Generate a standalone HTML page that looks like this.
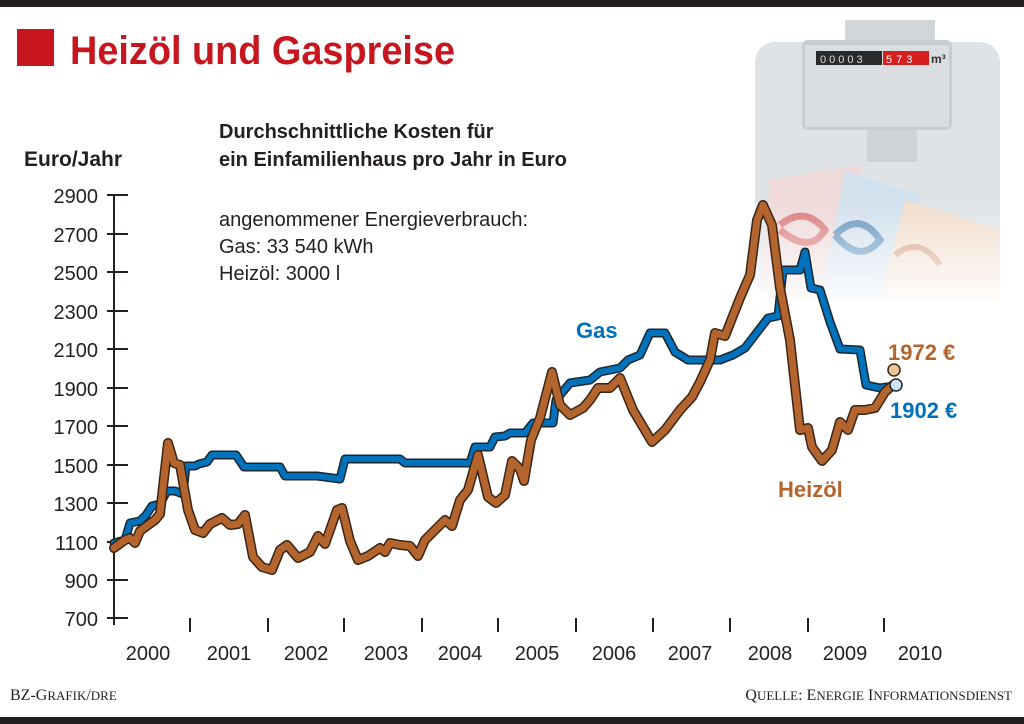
<!DOCTYPE html>
<html><head><meta charset="utf-8"><style>
body{margin:0;width:1024px;height:724px;overflow:hidden;background:#fff;font-family:"Liberation Sans",sans-serif}
</style></head><body>
<svg width="1024" height="724" viewBox="0 0 1024 724" xmlns="http://www.w3.org/2000/svg" style="position:absolute;left:0;top:0">
<defs>
<linearGradient id="fade" x1="0" y1="0" x2="0" y2="1"><stop offset="0" stop-color="#fff" stop-opacity="0"/><stop offset="1" stop-color="#fff" stop-opacity="1"/></linearGradient>
</defs>
<rect x="0" y="0" width="1024" height="7" fill="#231f20"/>
<rect x="0" y="717" width="1024" height="7" fill="#231f20"/>
<!-- meter photo -->
<rect x="755" y="42" width="245" height="255" rx="20" fill="#dfe3e6"/>
<rect x="845" y="20" width="90" height="22" fill="#d2d6d9"/>
<rect x="802" y="40" width="150" height="90" rx="6" fill="#c9cdd0"/>
<rect x="805" y="45" width="144" height="82" fill="#dadee1"/>
<rect x="816" y="51" width="66" height="14" fill="#2a2a2a"/>
<rect x="883" y="51" width="46" height="14" fill="#d62020"/>
<text x="820" y="63" font-size="11" fill="#ddd" letter-spacing="3">00003</text>
<text x="886" y="63" font-size="11" fill="#fff" letter-spacing="4">573</text>
<text x="931" y="63" font-size="12" font-weight="bold" fill="#333">m³</text>
<rect x="867" y="130" width="50" height="32" fill="#cfd3d6"/>
<polygon points="770,180 860,165 880,300 760,300" fill="#f3d6d6" opacity=".8"/>
<polygon points="845,170 920,195 900,300 820,300" fill="#cfe0ee" opacity=".85"/>
<polygon points="905,200 1000,230 1000,300 880,300" fill="#f6dcc4" opacity=".85"/>
<path d="M780,225 q25,-20 45,5 q-15,25 -45,0" fill="none" stroke="#d05050" stroke-width="7" opacity=".7"/>
<path d="M835,235 q25,-25 45,5 q-20,25 -45,-5" fill="none" stroke="#3070a8" stroke-width="7" opacity=".7"/>
<path d="M895,255 q25,-20 45,10" fill="none" stroke="#c07050" stroke-width="6" opacity=".6"/>
<rect x="750" y="200" width="260" height="110" fill="url(#fade)"/>
<!-- title -->
<rect x="17" y="29" width="37" height="37" fill="#c8161e"/>
<text x="70" y="64" font-size="40" font-weight="bold" fill="#c8161e" font-family="Liberation Sans Narrow, Liberation Sans, sans-serif" textLength="385" lengthAdjust="spacingAndGlyphs">Heizöl und Gaspreise</text>
<text x="24" y="166" font-size="21" font-weight="bold" fill="#231f20">Euro/Jahr</text>
<text x="219" y="138" font-size="20" font-weight="bold" fill="#231f20">Durchschnittliche Kosten für</text>
<text x="219" y="166" font-size="20" font-weight="bold" fill="#231f20">ein Einfamilienhaus pro Jahr in Euro</text>
<text x="219" y="226" font-size="20" fill="#231f20">angenommener Energieverbrauch:</text>
<text x="219" y="253" font-size="20" fill="#231f20">Gas: 33 540 kWh</text>
<text x="219" y="280" font-size="20" fill="#231f20">Heizöl: 3000 l</text>
<!-- axes -->
<g stroke="#231f20" stroke-width="2">
<line x1="114" y1="195" x2="114" y2="625"/>
<line x1="107" y1="195" x2="128" y2="195"/><line x1="107" y1="234" x2="128" y2="234"/><line x1="107" y1="272" x2="128" y2="272"/><line x1="107" y1="311" x2="128" y2="311"/><line x1="107" y1="349" x2="128" y2="349"/><line x1="107" y1="388" x2="128" y2="388"/><line x1="107" y1="426" x2="128" y2="426"/><line x1="107" y1="465" x2="128" y2="465"/><line x1="107" y1="503" x2="128" y2="503"/><line x1="107" y1="542" x2="128" y2="542"/><line x1="107" y1="580" x2="128" y2="580"/><line x1="107" y1="618" x2="128" y2="618"/>
<line x1="190" y1="618" x2="190" y2="632"/><line x1="268" y1="618" x2="268" y2="632"/><line x1="344" y1="618" x2="344" y2="632"/><line x1="422" y1="618" x2="422" y2="632"/><line x1="498" y1="618" x2="498" y2="632"/><line x1="576" y1="618" x2="576" y2="632"/><line x1="653" y1="618" x2="653" y2="632"/><line x1="730" y1="618" x2="730" y2="632"/><line x1="808" y1="618" x2="808" y2="632"/><line x1="884" y1="618" x2="884" y2="632"/>
</g>
<g font-size="20" fill="#231f20" text-anchor="end">
<text x="98" y="203">2900</text><text x="98" y="242">2700</text><text x="98" y="280">2500</text><text x="98" y="319">2300</text><text x="98" y="357">2100</text><text x="98" y="396">1900</text><text x="98" y="434">1700</text><text x="98" y="473">1500</text><text x="98" y="511">1300</text><text x="98" y="550">1100</text><text x="98" y="588">900</text><text x="98" y="626">700</text>
</g>
<g font-size="20" fill="#231f20" text-anchor="middle">
<text x="148" y="660">2000</text><text x="229" y="660">2001</text><text x="306" y="660">2002</text><text x="386" y="660">2003</text><text x="460" y="660">2004</text><text x="537" y="660">2005</text><text x="614" y="660">2006</text><text x="690" y="660">2007</text><text x="770" y="660">2008</text><text x="845" y="660">2009</text><text x="920" y="660">2010</text>
</g>
<!-- gas -->
<g fill="none" stroke-linejoin="round" stroke-linecap="round">
<polyline stroke="#1a2630" stroke-width="9" points="114,543 125,540 130,523 140,521 146,515 152,506 160,504 167,491 175,491 183,494 186,466 195,466 199,464 207,462 212,455 236,455 244,467 280,467 285,476 317,476 340,479 345,459 400,459 405,463 470,463 475,447 490,447 495,437 505,436 510,433 525,433 533,423 553,423 556,400 570,383 590,380 600,372 620,368 628,360 640,355 650,333 665,333 675,352 688,360 720,360 733,355 745,348 768,318 778,316 783,270 800,270 805,252 811,288 820,290 830,322 840,349 860,350 866,385 880,388 895,386"/>
<polyline stroke="#0071bb" stroke-width="6" points="114,543 125,540 130,523 140,521 146,515 152,506 160,504 167,491 175,491 183,494 186,466 195,466 199,464 207,462 212,455 236,455 244,467 280,467 285,476 317,476 340,479 345,459 400,459 405,463 470,463 475,447 490,447 495,437 505,436 510,433 525,433 533,423 553,423 556,400 570,383 590,380 600,372 620,368 628,360 640,355 650,333 665,333 675,352 688,360 720,360 733,355 745,348 768,318 778,316 783,270 800,270 805,252 811,288 820,290 830,322 840,349 860,350 866,385 880,388 895,386"/>
<polyline stroke="#3a2416" stroke-width="10" points="114,548 125,540 130,538 135,543 140,531 148,525 155,520 160,514 163,487 168,443 174,463 180,465 188,510 195,530 203,533 210,524 222,518 230,525 238,524 245,515 253,557 262,567 272,570 280,550 287,545 298,558 310,552 318,536 325,544 330,530 337,510 342,508 350,541 358,560 368,556 380,548 385,552 390,543 400,545 410,546 418,556 425,540 435,530 445,520 452,526 460,500 468,490 478,455 488,497 496,503 505,495 512,461 520,469 524,481 531,440 540,418 552,372 560,405 570,415 583,408 590,400 598,388 610,388 620,378 633,410 652,442 665,430 680,410 692,397 700,382 710,360 715,333 725,336 740,298 750,275 757,220 763,205 772,225 780,288 790,340 800,430 808,428 812,447 822,461 832,450 840,422 848,430 855,410 865,410 875,408 885,392 893,385"/>
<polyline stroke="#b3652d" stroke-width="7" points="114,548 125,540 130,538 135,543 140,531 148,525 155,520 160,514 163,487 168,443 174,463 180,465 188,510 195,530 203,533 210,524 222,518 230,525 238,524 245,515 253,557 262,567 272,570 280,550 287,545 298,558 310,552 318,536 325,544 330,530 337,510 342,508 350,541 358,560 368,556 380,548 385,552 390,543 400,545 410,546 418,556 425,540 435,530 445,520 452,526 460,500 468,490 478,455 488,497 496,503 505,495 512,461 520,469 524,481 531,440 540,418 552,372 560,405 570,415 583,408 590,400 598,388 610,388 620,378 633,410 652,442 665,430 680,410 692,397 700,382 710,360 715,333 725,336 740,298 750,275 757,220 763,205 772,225 780,288 790,340 800,430 808,428 812,447 822,461 832,450 840,422 848,430 855,410 865,410 875,408 885,392 893,385"/>
</g>
<circle cx="894" cy="370" r="6" fill="#e8c79a" stroke="#3a2416" stroke-width="1.5"/>
<circle cx="896" cy="385" r="6" fill="#cfe4f2" stroke="#1a2630" stroke-width="1.5"/>
<g font-size="22" font-weight="bold">
<text x="576" y="338" fill="#0071bb">Gas</text>
<text x="888" y="360" fill="#b3652d">1972 €</text>
<text x="890" y="418" fill="#0071bb">1902 €</text>
<text x="778" y="497" fill="#b3652d">Heizöl</text>
</g>
<text x="10" y="700" font-size="16" fill="#231f20" font-family="Liberation Serif, serif">BZ-G<tspan font-size="13">RAFIK</tspan>/<tspan font-size="13">DRE</tspan></text>
<text x="1012" y="700" font-size="16" fill="#231f20" font-family="Liberation Serif, serif" text-anchor="end">Q<tspan font-size="13">UELLE</tspan>: E<tspan font-size="13">NERGIE</tspan> I<tspan font-size="13">NFORMATIONSDIENST</tspan></text>
</svg>
</body></html>
